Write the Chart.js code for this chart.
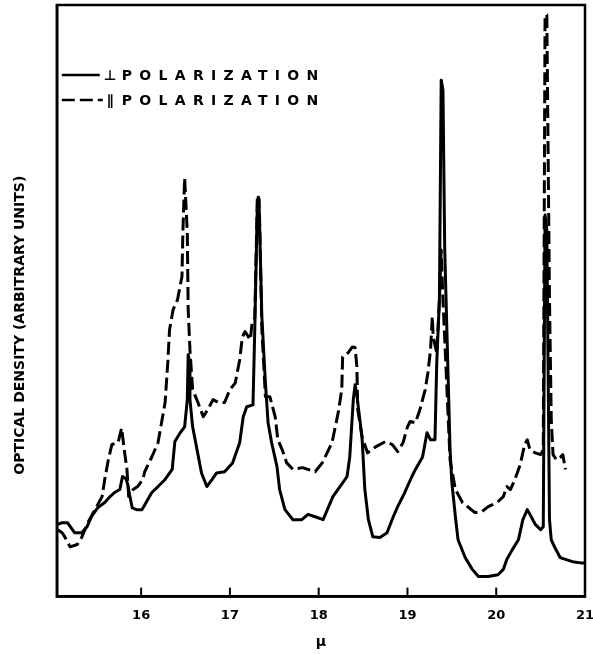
<!DOCTYPE html>
<html>
<head>
<meta charset="utf-8">
<script src="https://cdn.jsdelivr.net/npm/chart.js@4.4.1/dist/chart.umd.min.js"></script>
<style>
  html, body { margin: 0; padding: 0; background: #fff; }
</style>
</head>
<body>
<canvas id="myChart" width="593" height="654"></canvas>
<script>
var ctx = document.getElementById('myChart');

// wavelength (micron) and optical density (arbitrary units, 0-100)
var perpX = [15.06, 15.11, 15.17, 15.25, 15.33, 15.39, 15.44, 15.51, 15.59, 15.65, 15.70, 15.76, 15.79, 15.83, 15.85, 15.87, 15.90, 15.95, 16.01, 16.04,
  16.12, 16.19, 16.27, 16.35, 16.38, 16.44, 16.49, 16.52, 16.53, 16.54, 16.55, 16.58, 16.63, 16.68, 16.74, 16.80, 16.85, 16.94, 17.03, 17.11,
  17.15, 17.19, 17.26, 17.28, 17.31, 17.33, 17.36, 17.40, 17.43, 17.47, 17.53, 17.56, 17.62, 17.71, 17.81, 17.88, 17.96, 18.05, 18.16, 18.24,
  18.32, 18.35, 18.39, 18.41, 18.43, 18.47, 18.49, 18.52, 18.56, 18.61, 18.69, 18.77, 18.84, 18.89, 18.97, 19.05, 19.09, 19.17, 19.22, 19.26,
  19.31, 19.33, 19.36, 19.38, 19.40, 19.42, 19.46, 19.48, 19.50, 19.54, 19.57, 19.65, 19.73, 19.80, 19.91, 20.02, 20.08, 20.12, 20.18, 20.25,
  20.30, 20.35, 20.38, 20.44, 20.50, 20.53, 20.55, 20.57, 20.60, 20.62, 20.66, 20.72, 20.78, 20.86, 20.95, 21.00];
var perpY = [12.2, 12.5, 12.5, 10.8, 10.8, 11.8, 13.5, 15.0, 15.9, 16.9, 17.6, 18.1, 20.3, 19.9, 18.9, 17.2, 15.0, 14.7, 14.7, 15.5,
  17.6, 18.6, 19.8, 21.5, 26.2, 27.7, 28.7, 33.3, 40.9, 40.0, 33.3, 28.7, 24.8, 20.9, 18.6, 19.8, 20.9, 21.1, 22.6, 26.0,
  30.4, 32.1, 32.4, 45.1, 67.1, 65.4, 47.3, 36.1, 29.4, 26.0, 22.0, 18.1, 14.7, 13.0, 13.0, 13.9, 13.5, 13.0, 16.9, 18.6,
  20.3, 23.6, 33.3, 35.8, 34.1, 29.1, 26.5, 18.1, 13.0, 10.1, 10.0, 10.8, 13.5, 15.2, 17.6, 20.3, 21.5, 23.6, 27.7, 26.5,
  26.5, 39.5, 50.2, 87.3, 85.6, 58.6, 36.1, 24.8, 19.3, 13.5, 9.6, 6.6, 4.6, 3.4, 3.4, 3.7, 4.6, 6.3, 7.9, 9.6,
  13.0, 14.7, 13.9, 12.2, 11.3, 11.8, 64.5, 62.0, 13.0, 9.6, 8.3, 6.6, 6.3, 5.9, 5.7, 5.7];

var parX = [15.06, 15.11, 15.14, 15.20, 15.28, 15.33, 15.40, 15.48, 15.56, 15.59, 15.63, 15.67, 15.74, 15.78, 15.81, 15.84, 15.86, 15.91, 15.96, 16.02,
  16.04, 16.12, 16.19, 16.27, 16.30, 16.32, 16.36, 16.41, 16.46, 16.47, 16.49, 16.52, 16.53, 16.55, 16.58, 16.64, 16.70, 16.75, 16.81, 16.87,
  16.94, 17.00, 17.06, 17.11, 17.14, 17.17, 17.23, 17.25, 17.28, 17.31, 17.33, 17.36, 17.40, 17.45, 17.51, 17.54, 17.59, 17.64, 17.71, 17.82,
  17.96, 18.04, 18.15, 18.22, 18.26, 18.27, 18.33, 18.38, 18.41, 18.43, 18.44, 18.49, 18.55, 18.64, 18.75, 18.83, 18.89, 18.95, 19.00, 19.03,
  19.09, 19.14, 19.20, 19.23, 19.26, 19.28, 19.29, 19.33, 19.36, 19.38, 19.40, 19.45, 19.48, 19.54, 19.62, 19.76, 19.84, 19.91, 20.01, 20.08,
  20.12, 20.16, 20.21, 20.27, 20.32, 20.35, 20.38, 20.44, 20.50, 20.53, 20.55, 20.57, 20.60, 20.62, 20.64, 20.68, 20.72, 20.75, 20.78];
var parY = [11.3, 10.8, 10.1, 8.4, 8.8, 10.0, 12.5, 14.7, 16.9, 19.8, 23.1, 25.7, 26.0, 28.5, 24.8, 21.5, 16.9, 18.1, 18.6, 19.8,
  21.1, 23.6, 26.0, 32.8, 39.5, 45.1, 48.5, 50.2, 54.1, 61.5, 70.8, 61.5, 48.5, 41.7, 35.0, 32.8, 30.4, 31.6, 33.3, 32.8,
  32.8, 35.0, 36.1, 40.0, 43.9, 44.8, 43.4, 46.3, 47.1, 67.9, 67.1, 45.1, 33.8, 33.8, 30.4, 26.5, 24.8, 22.6, 21.5, 21.8,
  21.1, 22.6, 26.0, 31.1, 35.0, 40.5, 41.2, 42.2, 42.1, 38.9, 31.6, 27.0, 24.3, 25.3, 26.2, 25.7, 24.5, 26.0, 28.7, 29.6,
  29.4, 31.6, 35.0, 37.8, 41.7, 47.3, 43.9, 41.2, 50.2, 58.6, 50.2, 33.3, 23.1, 18.1, 15.9, 14.2, 14.4, 15.2, 15.9, 16.9,
  18.6, 18.1, 19.8, 22.3, 25.7, 26.5, 24.8, 24.3, 24.0, 24.8, 98.3, 98.3, 50.2, 29.9, 24.0, 23.1, 23.5, 24.0, 21.5];

var labels = ['\u22A5 POLARIZATION', '\u2225 POLARIZATION'];
var xTitle = '\u03BC';
// trailing spaces push the centred label down a little, as in the original
var yTitle = 'OPTICAL DENSITY (ARBITRARY UNITS)          ';

function toPoints(xs, ys) {
  return xs.map(function (x, i) { return { x: x, y: ys[i] }; });
}

var font = '"DejaVu Sans", sans-serif';

// legend drawn inside the plot, top left
var legendBox = {
  id: 'legendBox',
  afterDraw: function (chart) {
    var c = chart.ctx;
    var area = chart.chartArea;
    c.save();
    c.font = 'bold 14px ' + font;
    c.textBaseline = 'middle';
    c.fillStyle = '#000';
    c.strokeStyle = '#000';
    chart.data.datasets.forEach(function (ds, i) {
      var y = area.top + 70 + i * 25;
      var x = area.left + 5;
      var len = i === 0 ? 38 : 41;
      c.lineWidth = 2.5;
      c.setLineDash(ds.borderDash || []);
      c.beginPath();
      c.moveTo(x, y);
      c.lineTo(x + len, y);
      c.stroke();
      c.setLineDash([]);
      var parts = ds.label.split(' ');
      c.fillText(parts[0], x + len + 4, y + 1);
      c.letterSpacing = '7.3px';
      c.fillText(parts[1], x + 60, y + 1);
      c.letterSpacing = '0px';
    });
    c.restore();
  }
};

// frame round the plot and small inner tick marks
var frame = {
  id: 'frame',
  afterDatasetsDraw: function (chart) {
    var c = chart.ctx;
    var area = chart.chartArea;
    var xs = chart.scales.x;
    c.save();
    c.strokeStyle = '#000';
    c.lineWidth = 2.5;
    c.strokeRect(area.left, area.top, area.right - area.left, area.bottom - area.top);
    c.lineWidth = 2;
    xs.ticks.forEach(function (t) {
      var px = xs.getPixelForValue(t.value);
      c.beginPath();
      c.moveTo(px, area.bottom);
      c.lineTo(px, area.bottom - 9);
      c.stroke();
    });
    c.restore();
  }
};

var myChart = new Chart(ctx, {
  type: 'line',
  data: {
    datasets: [{
      label: labels[0],
      data: toPoints(perpX, perpY),
      borderColor: '#000',
      borderWidth: 3,
      pointRadius: 0,
      tension: 0,
      fill: false,
      borderJoinStyle: 'round'
    }, {
      label: labels[1],
      data: toPoints(parX, parY),
      borderColor: '#000',
      borderWidth: 3,
      borderDash: [13, 5],
      pointRadius: 0,
      tension: 0,
      fill: false,
      borderJoinStyle: 'round'
    }]
  },
  options: {
    responsive: false,
    animation: false,
    layout: { padding: { top: 5, right: 8, bottom: 1, left: 0 } },
    plugins: {
      legend: { display: false },
      tooltip: { enabled: false }
    },
    scales: {
      x: {
        type: 'linear',
        min: 15.05,
        max: 21,
        grid: { display: false, drawTicks: false },
        border: { display: true, color: '#000', width: 2.5 },
        afterFit: function (scale) {
          // let the "21" label run to the page edge like in the original
          scale.paddingRight = 0;
        },
        ticks: {
          stepSize: 1,
          includeBounds: false,
          padding: 11,
          color: '#000',
          font: { family: font, size: 13, weight: 'bold' },
          callback: function (v) { return v; }
        },
        title: {
          display: true,
          text: xTitle,
          color: '#000',
          font: { family: font, size: 14, weight: 'bold' },
          padding: { top: 0, bottom: 2 }
        }
      },
      y: {
        min: 0,
        max: 100,
        grid: { display: false, drawTicks: false },
        border: { display: true, color: '#000', width: 2.5 },
        ticks: { display: false },
        title: {
          display: true,
          text: yTitle,
          color: '#000',
          font: { family: font, size: 14, weight: 'bold' },
          padding: { top: 12, bottom: 28 }
        }
      }
    }
  },
  plugins: [legendBox, frame]
});
</script>
</body>
</html>
